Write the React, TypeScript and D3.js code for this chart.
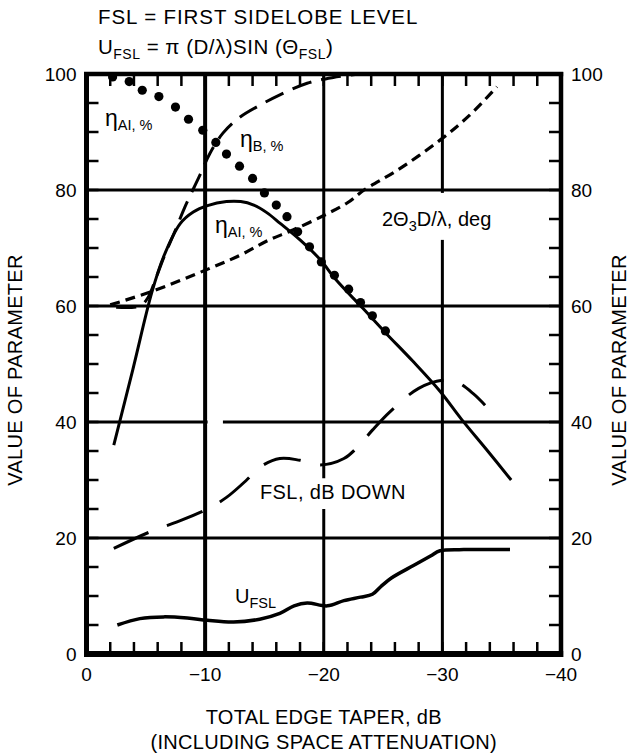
import React from "react";
import * as d3 from "d3";

const W = 633;
const H = 753;

// Axis ticks
const taperTicks = [0, -10, -20, -30, -40];
const valueTicks = [0, 20, 40, 60, 80, 100];
const gridTapers = [-10, -20, -30];
const gridValues = [20, 40, 60, 80];

// [edge taper dB, value]
const apertureEff: [number, number][] = [
  [-2.3, 36], [-3.9, 49], [-5.5, 62.3], [-6.5, 68.5], [-7.9, 74.2], [-9, 76.2],
  [-10.2, 77.3], [-11.8, 78], [-13, 78], [-14.1, 77.4], [-15.2, 76.1], [-16.3, 74.3],
  [-18, 71.4], [-19.7, 68], [-21, 64.6], [-23.3, 59.6], [-25.2, 55.4], [-27.5, 50.5],
  [-29.8, 45.3], [-31.6, 40.5], [-33.7, 35.3], [-35.8, 30],
];

const beamEffDots: [number, number][] = [
  [-2.2, 99.5], [-3.6, 98.7], [-4.7, 97.2], [-6.1, 96.1], [-7.5, 94.3], [-8.6, 92.2],
  [-9.8, 90.3], [-10.9, 88.2], [-11.8, 86.2], [-12.9, 84.1], [-14.0, 82.0], [-15.0, 79.5],
  [-16.0, 77.4], [-16.9, 75.4], [-17.8, 72.8], [-18.8, 70.2], [-19.8, 67.6], [-20.9, 65.3],
  [-22.1, 62.9], [-23.1, 60.6], [-24.1, 58.3], [-25.2, 55.7],
];

const beamEffB: [number, number][] = [
  [-2.5, 59.8], [-4.5, 60], [-5.2, 61.5], [-5.8, 64.5], [-6.5, 68.3], [-7.5, 73.1],
  [-8.3, 77.1], [-9.5, 82.3], [-10.4, 86.3], [-11.5, 89.8], [-12.9, 92.5], [-14.6, 94.6],
  [-16.3, 96.4], [-18.6, 98.4], [-20.8, 99.4], [-23, 100],
];

const beamwidth: [number, number][] = [
  [-2, 60.2], [-5.5, 62.5], [-10.4, 66.5], [-13, 68.8], [-15.2, 71.2], [-17.4, 73.1],
  [-20, 75.6], [-22, 77.8], [-23.4, 80], [-26.2, 83.4], [-29.8, 88.6], [-32.3, 92.9],
  [-34.6, 97.8],
];

const firstSidelobe: [number, number][] = [
  [-2.3, 18.2], [-5.4, 21.1], [-7.4, 22.6], [-10, 24.8], [-11.8, 27], [-13.5, 30],
  [-14.6, 32.2], [-16.3, 33.7], [-18, 33.4], [-19.7, 32.6], [-21.7, 33.7], [-23, 36],
  [-24.1, 38.6], [-25.6, 41.8], [-28, 45.8], [-30, 47.2], [-31.2, 46.9], [-32.6, 44.9],
  [-33.6, 42.9],
];

const uFsl: [number, number][] = [
  [-2.6, 5.0], [-4.5, 6.1], [-6.5, 6.4], [-8.5, 6.2], [-10.2, 5.8], [-12.4, 5.5],
  [-14.6, 6.0], [-16.3, 7.0], [-17.5, 8.3], [-18.6, 8.8], [-20.3, 8.3], [-21.7, 9.2],
  [-23.1, 9.8], [-24.1, 10.3], [-24.8, 11.6], [-25.7, 13.1], [-27.6, 15.3], [-29, 16.9],
  [-29.8, 17.8], [-31.8, 18.0], [-35.7, 18.0],
];

const FONT = "'Liberation Sans', Arial, Helvetica, sans-serif";

const fmt = (v: number) => (v === 0 ? "0" : "\u2212" + Math.abs(v));

export default function App() {
  const x = d3.scaleLinear().domain([0, -40]).range([86.5, 561]);
  const y = d3.scaleLinear().domain([0, 100]).range([654, 74]);
  const line = d3
    .line<[number, number]>()
    .x((d) => x(d[0]))
    .y((d) => y(d[1]))
    .curve(d3.curveCatmullRom.alpha(0.5));

  const minorX = d3.range(-2, -40, -2);
  const minorY = d3.range(5, 100, 5);
  const [x0, x1] = x.range();
  const [y0, y1] = y.range();
  const tickLen = 12;

  return (
    <svg
      width={W}
      height={H}
      viewBox={`0 0 ${W} ${H}`}
      style={{ position: "absolute", left: 0, top: 0, background: "#fff" }}
      fontFamily={FONT}
    >
      <rect width={W} height={H} fill="#fff" />

      {/* header */}
      <text x={98} y={24} fontSize={20.5} letterSpacing={0.9}>
        FSL = FIRST SIDELOBE LEVEL
      </text>
      <text x={98} y={54} fontSize={20.5} letterSpacing={0.5}>
        <tspan>U</tspan>
        <tspan fontSize={14} dy={5}>FSL</tspan>
        <tspan dy={-5}> = π (D/λ)SIN (Θ</tspan>
        <tspan fontSize={14} dy={5}>FSL</tspan>
        <tspan dy={-5}>)</tspan>
      </text>

      {/* grid */}
      <g stroke="#000" strokeWidth={3}>
        {gridValues.map((v) => (
          <line key={"gy" + v} x1={x0} x2={x1} y1={y(v)} y2={y(v)} />
        ))}
        {gridTapers.map((t) => (
          <line key={"gx" + t} x1={x(t)} x2={x(t)} y1={y1} y2={y0} strokeWidth={t === -10 ? 4 : 3} />
        ))}
      </g>

      {/* minor ticks */}
      <g stroke="#000" strokeWidth={2.5}>
        {minorX.map((t) => (
          <g key={"tx" + t}>
            <line x1={x(t)} x2={x(t)} y1={y0} y2={y0 - tickLen} />
            <line x1={x(t)} x2={x(t)} y1={y1} y2={y1 + tickLen} />
          </g>
        ))}
        {minorY.map((v) => (
          <g key={"ty" + v}>
            <line x1={x0} x2={x0 + tickLen} y1={y(v)} y2={y(v)} />
            <line x1={x1} x2={x1 - tickLen} y1={y(v)} y2={y(v)} />
          </g>
        ))}
      </g>

      {/* breaks in the grid around labels */}
      <rect x={378} y={y(79.5)} width={124} height={y(71.4) - y(79.5)} fill="#fff" />
      <rect x={256} y={y(30.3)} width={156} height={y(25) - y(30.3)} fill="#fff" />
      <rect x={x(-10) + 2.5} y={y(40) - 3} width={x(-11.5) - x(-10) - 2.5} height={6} fill="#fff" />

      {/* curves */}
      <g fill="none" stroke="#000" strokeLinecap="butt" strokeLinejoin="round">
        <path d={line(apertureEff) || ""} strokeWidth={3} />
        <path d={line(beamEffB) || ""} strokeWidth={3} strokeDasharray="20 10" />
        <path d={line(beamwidth) || ""} strokeWidth={3.2} strokeDasharray="10 6" />
        <path d={line(firstSidelobe) || ""} strokeWidth={3} strokeDasharray="38 20" />
        <path d={line(uFsl) || ""} strokeWidth={3.5} />
      </g>
      <g fill="#000">
        {beamEffDots.map((d, i) => (
          <circle key={"dot" + i} cx={x(d[0])} cy={y(d[1])} r={4.6} />
        ))}
      </g>

      {/* frame */}
      <g stroke="#000" fill="none">
        <line x1={x0} x2={x0} y1={y1 - 2} y2={y0 + 3} strokeWidth={5} />
        <line x1={x1} x2={x1} y1={y1 - 2} y2={y0 + 3} strokeWidth={4.5} />
        <line x1={x0 - 2.5} x2={x1 + 2.2} y1={y1} y2={y1} strokeWidth={4.5} />
        <line x1={x0 - 2.5} x2={x1 + 2.2} y1={y0} y2={y0} strokeWidth={6} />
      </g>

      {/* tick labels */}
      <g fontSize={19}>
        {valueTicks.map((v) => (
          <text key={"ly" + v} x={x0 - 10} y={y(v)} dy="0.36em" textAnchor="end">
            {v}
          </text>
        ))}
        {valueTicks.map((v) => (
          <text key={"ry" + v} x={x1 + 10} y={y(v)} dy="0.36em" textAnchor="start">
            {v}
          </text>
        ))}
        {taperTicks.map((t) => (
          <text key={"lx" + t} x={x(t)} y={y0 + 27} textAnchor="middle">
            {fmt(t)}
          </text>
        ))}
      </g>

      {/* axis titles */}
      <g fontSize={20} textAnchor="middle" letterSpacing={0.3}>
        <text transform={`translate(22,370) rotate(-90)`}>VALUE OF PARAMETER</text>
        <text transform={`translate(626,370) rotate(-90)`}>VALUE OF PARAMETER</text>
        <text x={(x0 + x1) / 2} y={724}>TOTAL EDGE TAPER, dB</text>
        <text x={(x0 + x1) / 2} y={749}>(INCLUDING SPACE ATTENUATION)</text>
      </g>

      {/* curve labels */}
      <g fontSize={20}>
        <text x={105} y={126}>
          <tspan fontSize={23}>η</tspan>
          <tspan fontSize={14.5} dy={4}>AI, %</tspan>
        </text>
        <text x={240} y={147}>
          <tspan fontSize={23}>η</tspan>
          <tspan fontSize={14.5} dy={4}>B, %</tspan>
        </text>
        <text x={215} y={233}>
          <tspan fontSize={23}>η</tspan>
          <tspan fontSize={14.5} dy={4}>AI, %</tspan>
        </text>
        <text x={382} y={225.5}>
          <tspan>2Θ</tspan>
          <tspan fontSize={14.5} dy={5}>3</tspan>
          <tspan dy={-5}>D/λ, deg</tspan>
        </text>
        <text x={260} y={498.5} letterSpacing={0.4}>FSL, dB DOWN</text>
        <text x={235} y={603}>
          <tspan>U</tspan>
          <tspan fontSize={14.5} dy={5}>FSL</tspan>
        </text>
      </g>
    </svg>
  );
}
